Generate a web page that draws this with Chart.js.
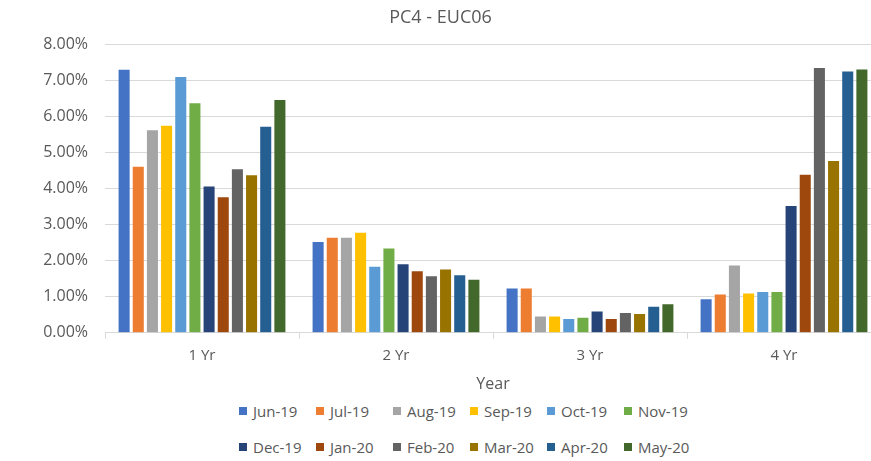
<!DOCTYPE html>
<html>
<head>
<meta charset="utf-8">
<script src="https://cdn.jsdelivr.net/npm/chart.js@4"></script>
<style>
  html, body { margin: 0; padding: 0; background: #fff; overflow: hidden; }
  #wrap { position: relative; width: 886px; height: 461px; }
  #legend {
    position: absolute; left: 239px; top: 401px;
    display: grid; grid-template-columns: repeat(6, 77px); row-gap: 16px;
    font: 15px "Open Sans", sans-serif; color: #595959;
  }
  #legend div { display: flex; align-items: center; white-space: nowrap; height: 20px; }
  #legend span.box { width: 8px; height: 8px; margin-right: 6px; display: inline-block; }
</style>
</head>
<body>
<div id="wrap">
  <canvas id="chart" width="886" height="400"></canvas>
  <div id="legend"></div>
</div>
<script>
const categories = ["1 Yr", "2 Yr", "3 Yr", "4 Yr"];
const months = ["Jun-19", "Jul-19", "Aug-19", "Sep-19", "Oct-19", "Nov-19",
                "Dec-19", "Jan-20", "Feb-20", "Mar-20", "Apr-20", "May-20"];
const colors = ["#4472C4", "#ED7D31", "#A5A5A5", "#FFC000", "#5B9BD5", "#70AD47",
                "#264478", "#9E480E", "#636363", "#997300", "#255E91", "#43682B"];

// rate (%) per month, one value per term
const jun19 = [7.30, 2.52, 1.23, 0.93];
const jul19 = [4.61, 2.64, 1.23, 1.06];
const aug19 = [5.62, 2.64, 0.45, 1.87];
const sep19 = [5.75, 2.78, 0.45, 1.09];
const oct19 = [7.10, 1.83, 0.38, 1.13];
const nov19 = [6.37, 2.34, 0.42, 1.13];
const dec19 = [4.06, 1.90, 0.59, 3.52];
const jan20 = [3.76, 1.71, 0.38, 4.39];
const feb20 = [4.54, 1.57, 0.55, 7.35];
const mar20 = [4.37, 1.76, 0.52, 4.77];
const apr20 = [5.72, 1.60, 0.72, 7.25];
const may20 = [6.46, 1.47, 0.79, 7.31];
const series = [jun19, jul19, aug19, sep19, oct19, nov19, dec19, jan20, feb20, mar20, apr20, may20];

const yTicks = { min: 0, max: 8, step: 1 };

const textColor = "#595959";
const gridColor = "#D9D9D9";
const font = "'Open Sans', sans-serif";

const datasets = months.map((m, i) => ({
  label: m,
  data: series[i],
  backgroundColor: colors[i],
  borderWidth: 0,
  barPercentage: 0.78,
  categoryPercentage: 0.876
}));

const chart = new Chart(document.getElementById("chart"), {
  type: "bar",
  data: { labels: categories, datasets: datasets },
  options: {
    responsive: false,
    animation: false,
    layout: { padding: { left: 0, right: 5, top: 0, bottom: 2 } },
    plugins: {
      legend: { display: false },
      tooltip: { enabled: false },
      title: {
        display: true,
        text: "PC4 - EUC06",
        color: textColor,
        font: { family: font, size: 18, weight: "normal" },
        padding: { top: 7, bottom: 16 }
      }
    },
    scales: {
      x: {
        grid: { offset: true, drawOnChartArea: false, drawTicks: true, tickLength: 6, color: gridColor },
        border: { color: gridColor },
        ticks: { color: textColor, font: { family: font, size: 15 }, padding: 8 },
        title: {
          display: true, text: "Year", color: textColor,
          font: { family: font, size: 16 }, padding: { top: 2, bottom: 4 }
        }
      },
      y: {
        min: yTicks.min,
        max: yTicks.max,
        afterFit: (axis) => { axis.width = 105; },
        grid: { color: gridColor, drawTicks: false },
        border: { display: false },
        ticks: {
          stepSize: yTicks.step,
          padding: 17,
          color: textColor,
          font: { family: font, size: 16 },
          callback: (v) => v.toFixed(2) + "%"
        }
      }
    }
  }
});

// legend laid out in two rows of six
const legendEl = document.getElementById("legend");
chart.data.datasets.forEach((ds) => {
  const item = document.createElement("div");
  const box = document.createElement("span");
  box.className = "box";
  box.style.background = ds.backgroundColor;
  item.appendChild(box);
  item.appendChild(document.createTextNode(ds.label));
  legendEl.appendChild(item);
});
</script>
</body>
</html>
